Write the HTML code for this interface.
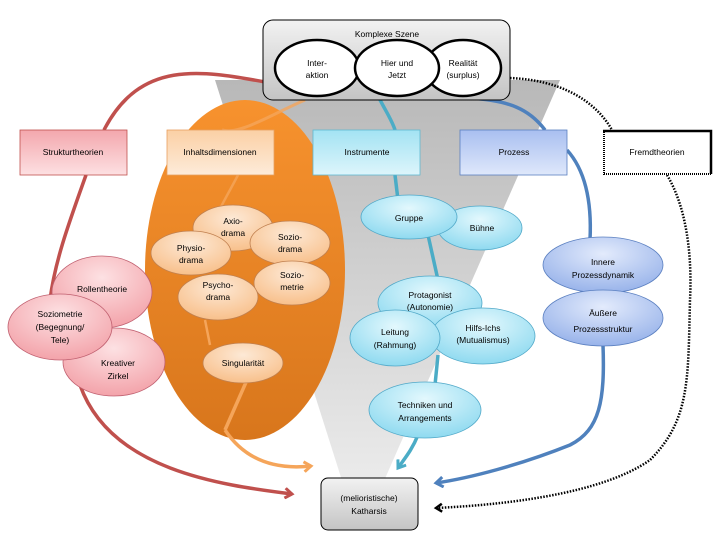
<!DOCTYPE html>
<html><head><meta charset="utf-8"><style>
html,body{margin:0;padding:0;background:#fff;width:720px;height:540px;overflow:hidden}
svg text{font-family:"Liberation Sans",sans-serif;font-size:8.5px;fill:#000;text-anchor:middle}
</style></head><body>
<svg width="720" height="540" viewBox="0 0 720 540" xmlns="http://www.w3.org/2000/svg">
<defs>
<linearGradient id="gf" x1="0" y1="0" x2="0" y2="1"><stop offset="0" stop-color="#b8b8b8"/><stop offset="1" stop-color="#ececec"/></linearGradient>
<linearGradient id="go" x1="0" y1="0" x2="0" y2="1"><stop offset="0" stop-color="#f7922e"/><stop offset="1" stop-color="#d8761c"/></linearGradient>
<linearGradient id="gbox" x1="0" y1="0" x2="0" y2="1"><stop offset="0" stop-color="#f2f2f2"/><stop offset="1" stop-color="#c4c4c4"/></linearGradient>
<linearGradient id="gr" x1="0" y1="0" x2="0" y2="1"><stop offset="0" stop-color="#f3a7ad"/><stop offset="1" stop-color="#fde0e2"/></linearGradient>
<linearGradient id="gor" x1="0" y1="0" x2="0" y2="1"><stop offset="0" stop-color="#fbd0a5"/><stop offset="1" stop-color="#fdebd9"/></linearGradient>
<linearGradient id="gc" x1="0" y1="0" x2="0" y2="1"><stop offset="0" stop-color="#a3e3f3"/><stop offset="1" stop-color="#ddf5fb"/></linearGradient>
<linearGradient id="gb" x1="0" y1="0" x2="0" y2="1"><stop offset="0" stop-color="#a9bff0"/><stop offset="1" stop-color="#dfe8fb"/></linearGradient>
<radialGradient id="er" cx="0.5" cy="0.3" r="0.7"><stop offset="0" stop-color="#fde1e3"/><stop offset="1" stop-color="#f3a3aa"/></radialGradient>
<radialGradient id="eo" cx="0.5" cy="0.3" r="0.7"><stop offset="0" stop-color="#fde9d6"/><stop offset="1" stop-color="#f8c08b"/></radialGradient>
<radialGradient id="ec" cx="0.5" cy="0.3" r="0.7"><stop offset="0" stop-color="#e3f8fd"/><stop offset="1" stop-color="#8fdaf0"/></radialGradient>
<radialGradient id="eb" cx="0.5" cy="0.3" r="0.7"><stop offset="0" stop-color="#e3ebfc"/><stop offset="1" stop-color="#98b3ea"/></radialGradient>
<marker id="ar" markerWidth="12" markerHeight="12" refX="9" refY="6" orient="auto" markerUnits="userSpaceOnUse"><path d="M2,1 L9,6 L2,11" fill="none" stroke="#c0504d" stroke-width="3"/></marker>
<marker id="ao" markerWidth="12" markerHeight="12" refX="9" refY="6" orient="auto" markerUnits="userSpaceOnUse"><path d="M2,1 L9,6 L2,11" fill="none" stroke="#f5a55a" stroke-width="3"/></marker>
<marker id="ac" markerWidth="12" markerHeight="12" refX="9" refY="6" orient="auto" markerUnits="userSpaceOnUse"><path d="M2,1 L9,6 L2,11" fill="none" stroke="#4bacc6" stroke-width="3"/></marker>
<marker id="ab" markerWidth="12" markerHeight="12" refX="9" refY="6" orient="auto" markerUnits="userSpaceOnUse"><path d="M2,1 L9,6 L2,11" fill="none" stroke="#4f81bd" stroke-width="3"/></marker>
<marker id="ak" markerWidth="12" markerHeight="12" refX="9" refY="6" orient="auto" markerUnits="userSpaceOnUse"><path d="M3,2 L9,6 L3,10" fill="none" stroke="#000" stroke-width="2.5"/></marker>
</defs>
<polygon points="215,80 560,80 380,490 345,490" fill="url(#gf)"/>
<ellipse cx="245" cy="270" rx="100" ry="170" fill="url(#go)"/>
<path d="M265,82 C200,70 140,60 104,130" fill="none" stroke="#c0504d" stroke-width="3.5"/>
<path d="M86,175 C70,220 55,260 50,300" fill="none" stroke="#c0504d" stroke-width="3.5"/>
<path d="M80,385 C110,470 220,485 292,494" fill="none" stroke="#c0504d" stroke-width="3.5" marker-end="url(#ar)"/>
<path d="M305,100 C270,115 240,135 222,130" fill="none" stroke="#f5a55a" stroke-width="3" opacity="0.8"/>
<path d="M238,175 C225,200 215,215 212,230" fill="none" stroke="#f5a55a" stroke-width="2.5" opacity="0.8"/>
<path d="M205,320 L210,345" fill="none" stroke="#f5a55a" stroke-width="2.5"/>
<path d="M247,380 L225,430" fill="none" stroke="#f5a55a" stroke-width="3.5"/>
<path d="M225,430 C245,460 275,470 311,466" fill="none" stroke="#f5a55a" stroke-width="3.5" marker-end="url(#ao)"/>
<path d="M378,96 C385,110 392,120 395,130" fill="none" stroke="#4bacc6" stroke-width="3.5"/>
<path d="M395,175 L398,200" fill="none" stroke="#4bacc6" stroke-width="3.5"/>
<path d="M428,235 L438,280" fill="none" stroke="#4bacc6" stroke-width="3.5"/>
<path d="M438,355 L435,385" fill="none" stroke="#4bacc6" stroke-width="3.5"/>
<path d="M418,435 C412,450 405,458 398,468" fill="none" stroke="#4bacc6" stroke-width="3.5" marker-end="url(#ac)"/>
<path d="M468,98 C510,100 530,110 545,130" fill="none" stroke="#4f81bd" stroke-width="3.5"/>
<path d="M567,150 C585,170 592,200 590,240" fill="none" stroke="#4f81bd" stroke-width="3.5"/>
<path d="M603,292 L603,300" fill="none" stroke="#4f81bd" stroke-width="3.5"/>
<path d="M603,345 C605,400 600,430 570,445 C520,465 470,478 436,483" fill="none" stroke="#4f81bd" stroke-width="3.5" marker-end="url(#ab)"/>
<path d="M510,78 C560,80 595,100 612,130" fill="none" stroke="#000" stroke-width="2.5" stroke-dasharray="1.5,1.5"/>
<path d="M667,175 C688,210 692,260 690,300 C688,380 690,420 650,460 C600,495 500,505 436,508" fill="none" stroke="#000" stroke-width="2.5" stroke-dasharray="1.5,1.5" marker-end="url(#ak)"/>
<rect x="263" y="20" width="247" height="80" rx="10" fill="url(#gbox)" stroke="#000" stroke-width="1"/>
<text x="387" y="37">Komplexe Szene</text>
<ellipse cx="317" cy="68" rx="42" ry="28" fill="#fff" stroke="#000" stroke-width="2.5"/>
<ellipse cx="463" cy="68" rx="38" ry="28" fill="#fff" stroke="#000" stroke-width="2.5"/>
<ellipse cx="397" cy="68" rx="42" ry="28" fill="#fff" stroke="#000" stroke-width="2.5"/>
<text x="317" y="66">Inter-</text><text x="317" y="78">aktion</text>
<text x="397" y="66">Hier und</text><text x="397" y="78">Jetzt</text>
<text x="463" y="66">Realität</text><text x="463" y="78">(surplus)</text>
<rect x="20" y="130" width="107" height="45" fill="url(#gr)" stroke="#c0504d" stroke-width="0.8"/>
<text x="73" y="155">Strukturtheorien</text>
<rect x="167" y="130" width="107" height="45" fill="url(#gor)" stroke="#e8a060" stroke-width="0.8"/>
<text x="220" y="155">Inhaltsdimensionen</text>
<rect x="313" y="130" width="107" height="45" fill="url(#gc)" stroke="#5fb8d0" stroke-width="0.8"/>
<text x="367" y="155">Instrumente</text>
<rect x="460" y="130" width="107" height="45" fill="url(#gb)" stroke="#5a7fc0" stroke-width="0.8"/>
<text x="514" y="155">Prozess</text>
<rect x="603" y="130" width="109" height="45" fill="#fff"/>
<path d="M604,175 L604,131 M604,174 L711,174" stroke="#000" stroke-width="2" stroke-dasharray="1,1" fill="none"/>
<path d="M603,131 L711,131 L711,174" stroke="#000" stroke-width="2.5" fill="none"/>
<text x="657" y="155">Fremdtheorien</text>
<ellipse cx="102" cy="292" rx="50" ry="36" fill="url(#er)" stroke="#c06070" stroke-width="0.8"/>
<text x="102" y="292">Rollentheorie</text>
<ellipse cx="114" cy="362" rx="51" ry="34" fill="url(#er)" stroke="#c06070" stroke-width="0.8"/>
<text x="118" y="366">Kreativer</text><text x="118" y="379">Zirkel</text>
<ellipse cx="60" cy="327" rx="52" ry="33" fill="url(#er)" stroke="#c06070" stroke-width="0.8"/>
<text x="60" y="317">Soziometrie</text><text x="60" y="330">(Begegnung/</text><text x="60" y="343">Tele)</text>
<ellipse cx="233" cy="228" rx="40" ry="23" fill="url(#eo)" stroke="#c08050" stroke-width="0.8"/>
<text x="233" y="224">Axio-</text><text x="233" y="236">drama</text>
<ellipse cx="191" cy="253" rx="40" ry="22" fill="url(#eo)" stroke="#c08050" stroke-width="0.8"/>
<text x="191" y="251">Physio-</text><text x="191" y="263">drama</text>
<ellipse cx="290" cy="243" rx="40" ry="22" fill="url(#eo)" stroke="#c08050" stroke-width="0.8"/>
<text x="290" y="240">Sozio-</text><text x="290" y="252">drama</text>
<ellipse cx="292" cy="283" rx="38" ry="22" fill="url(#eo)" stroke="#c08050" stroke-width="0.8"/>
<text x="292" y="278">Sozio-</text><text x="292" y="290">metrie</text>
<ellipse cx="218" cy="297" rx="40" ry="23" fill="url(#eo)" stroke="#c08050" stroke-width="0.8"/>
<text x="218" y="288">Psycho-</text><text x="218" y="300">drama</text>
<ellipse cx="243" cy="363" rx="40" ry="20" fill="url(#eo)" stroke="#c08050" stroke-width="0.8"/>
<text x="243" y="366">Singularität</text>
<ellipse cx="480" cy="228" rx="42" ry="22" fill="url(#ec)" stroke="#50a8c8" stroke-width="0.8"/>
<text x="482" y="231">Bühne</text>
<ellipse cx="409" cy="217" rx="48" ry="22" fill="url(#ec)" stroke="#50a8c8" stroke-width="0.8"/>
<text x="409" y="221">Gruppe</text>
<ellipse cx="430" cy="303" rx="52" ry="27" fill="url(#ec)" stroke="#50a8c8" stroke-width="0.8"/>
<text x="430" y="298">Protagonist</text><text x="430" y="310">(Autonomie)</text>
<ellipse cx="483" cy="336" rx="52" ry="28" fill="url(#ec)" stroke="#50a8c8" stroke-width="0.8"/>
<text x="483" y="331">Hilfs-Ichs</text><text x="483" y="343">(Mutualismus)</text>
<ellipse cx="395" cy="338" rx="45" ry="28" fill="url(#ec)" stroke="#50a8c8" stroke-width="0.8"/>
<text x="395" y="335">Leitung</text><text x="395" y="348">(Rahmung)</text>
<ellipse cx="425" cy="410" rx="56" ry="28" fill="url(#ec)" stroke="#50a8c8" stroke-width="0.8"/>
<text x="425" y="408">Techniken und</text><text x="425" y="421">Arrangements</text>
<ellipse cx="603" cy="265" rx="60" ry="28" fill="url(#eb)" stroke="#5a7fc0" stroke-width="0.8"/>
<text x="603" y="265">Innere</text><text x="603" y="278">Prozessdynamik</text>
<ellipse cx="603" cy="318" rx="60" ry="28" fill="url(#eb)" stroke="#5a7fc0" stroke-width="0.8"/>
<text x="603" y="316">Äußere</text><text x="603" y="332">Prozessstruktur</text>
<rect x="321" y="478" width="97" height="52" rx="7" fill="url(#gbox)" stroke="#000" stroke-width="1"/>
<text x="369" y="501">(melioristische)</text><text x="369" y="514">Katharsis</text>
</svg>
</body></html>
